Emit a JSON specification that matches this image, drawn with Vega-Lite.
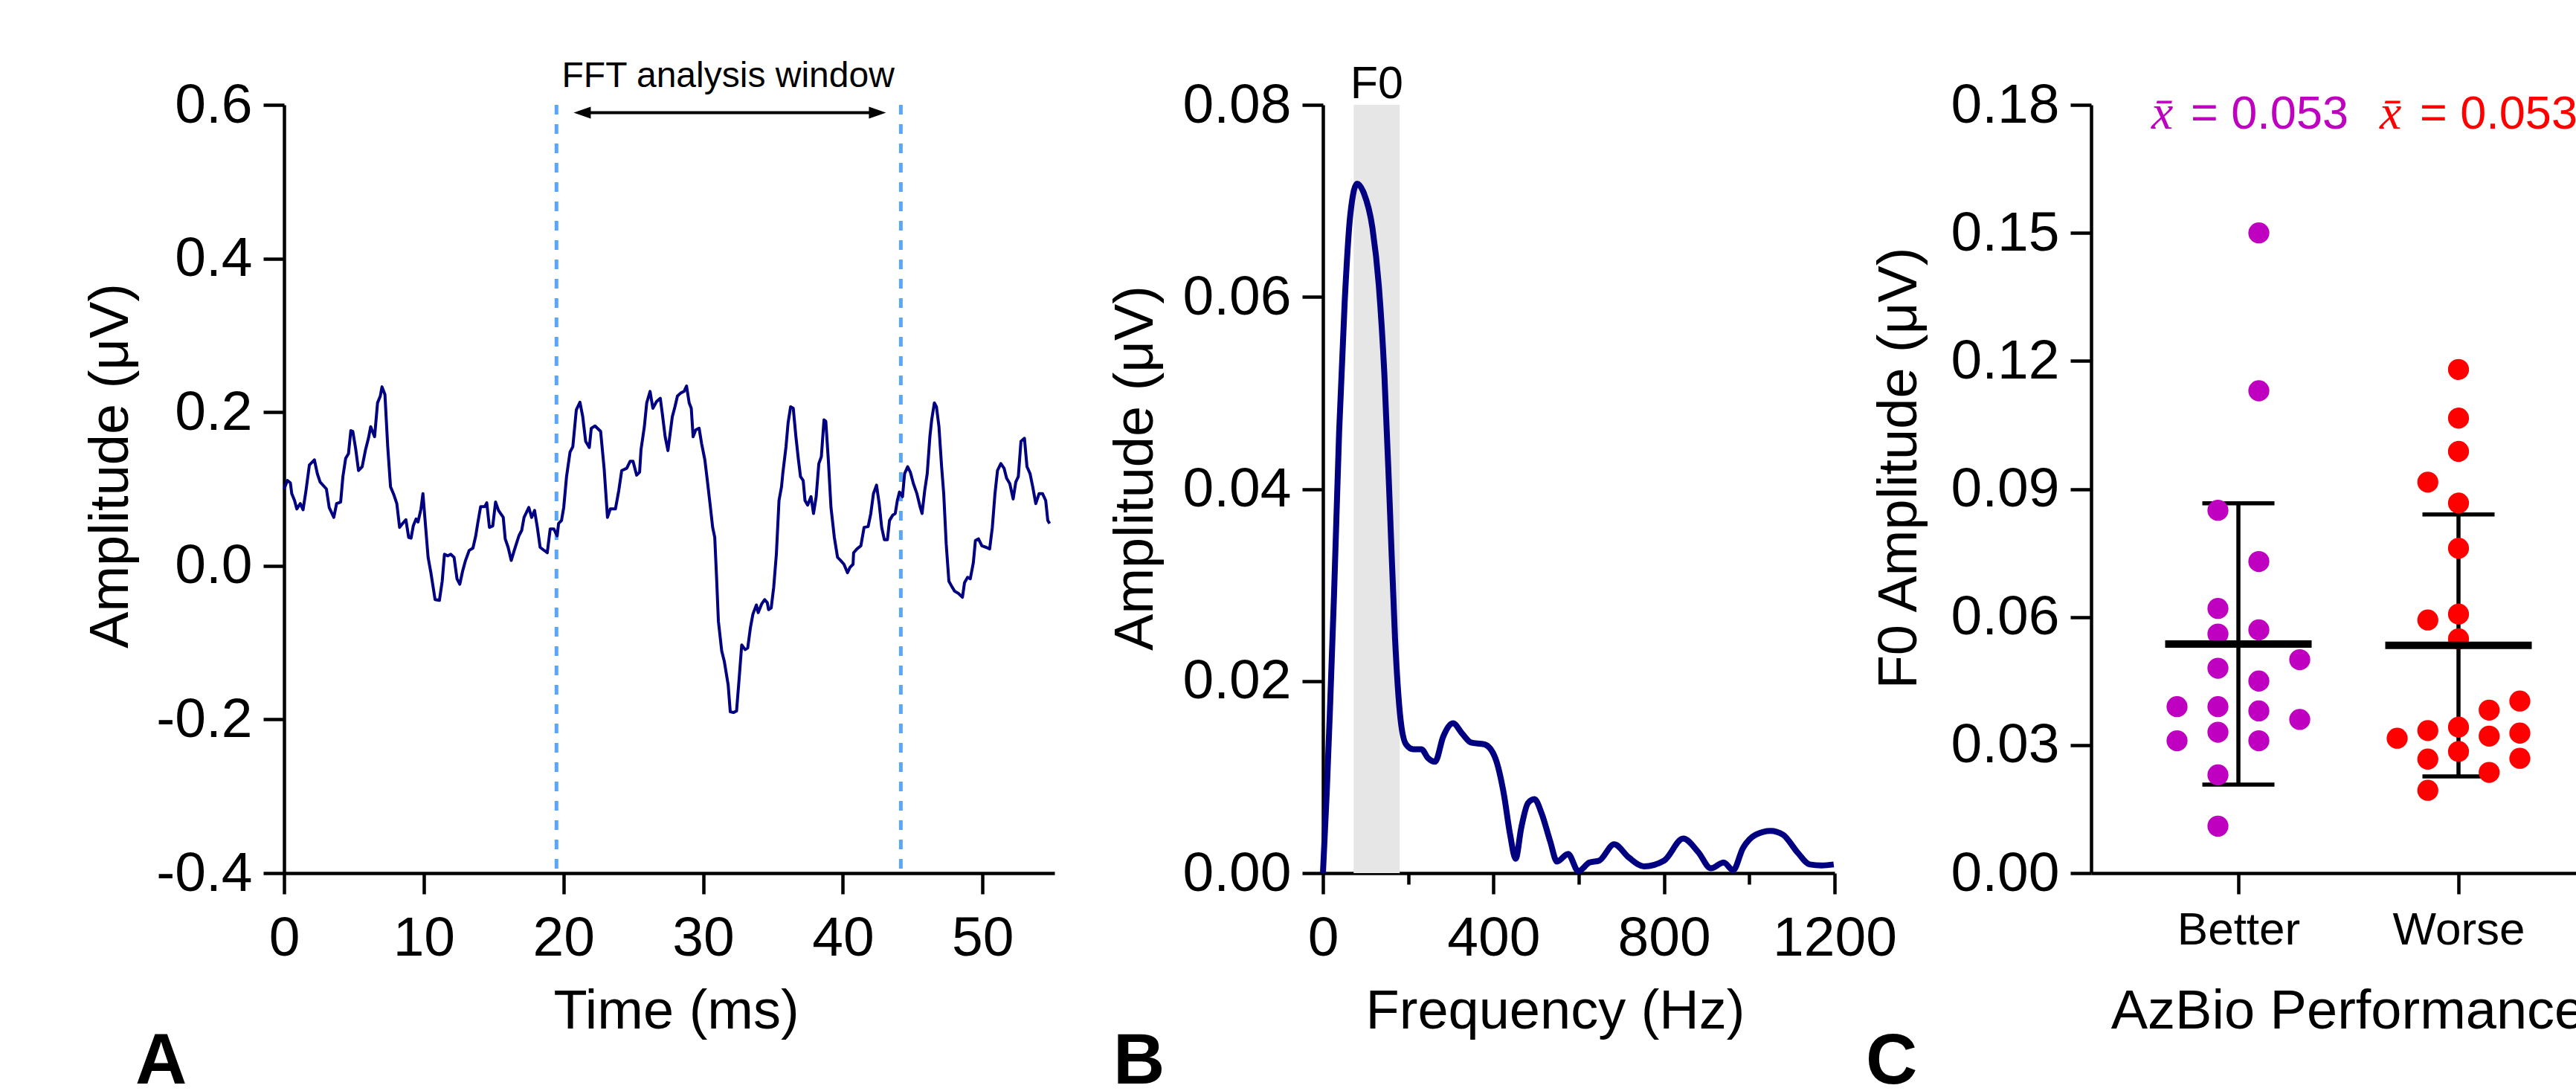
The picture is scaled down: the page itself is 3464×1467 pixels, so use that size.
{
  "$schema": "https://vega.github.io/schema/vega-lite/v6.json",
  "autosize": {"type": "none"},
  "padding": {"left": 382, "top": 141, "right": 3082, "bottom": 1326},
  "background": "white",
  "config": {
    "font": "Liberation Sans",
    "view": {"stroke": null},
    "axis": {
      "domainColor": "black", "domainWidth": 4.5,
      "tickColor": "black", "tickWidth": 4.5, "tickSize": 28,
      "labelFont": "Liberation Sans", "labelFontSize": 75, "labelColor": "black",
      "titleFont": "Liberation Sans", "titleFontSize": 74, "titleFontWeight": "normal", "titleColor": "black",
      "grid": false, "labelFlush": false, "labelOverlap": false, "labelBound": false
    },
    "axisX": {"labelBaseline": "alphabetic", "labelPadding": 82, "titleBaseline": "alphabetic", "titleY": 208, "labelAngle": 0},
    "axisY": {"labelPadding": 15, "titleBaseline": "alphabetic"}
  },
  "bounds": "flush",
  "spacing": 361,
  "hconcat": [
    {
      "width": 1036,
      "height": 1033,
      "title": {"text": "A", "orient": "bottom", "anchor": "start", "frame": "group", "dx": -200, "offset": 60, "baseline": "alphabetic", "fontSize": 96, "fontWeight": "bold", "font": "Liberation Sans", "color": "black"},
      "layer": [
        {
          "data": {"values": [{"boundary_ms": 19.5}, {"boundary_ms": 44.15}]},
          "mark": {"type": "rule", "color": "#5aa7f7", "strokeWidth": 5, "strokeDash": [13, 13]},
          "encoding": {
            "x": {"field": "boundary_ms", "type": "quantitative", "title": "Time (ms)", "scale": {"domain": [0, 55.15], "nice": false, "zero": false}}
          }
        },
        {
          "data": {"values": [
            {"ms":0,"uV":0.100},{"ms":0.24,"uV":0.111},{"ms":0.45,"uV":0.108},{"ms":0.55,"uV":0.094},{"ms":0.75,"uV":0.085},{"ms":0.91,"uV":0.074},{"ms":1.16,"uV":0.081},{"ms":1.36,"uV":0.073},{"ms":1.57,"uV":0.098},{"ms":1.81,"uV":0.131},{"ms":2.17,"uV":0.138},{"ms":2.38,"uV":0.120},{"ms":2.58,"uV":0.109},{"ms":3.03,"uV":0.100},{"ms":3.23,"uV":0.076},{"ms":3.56,"uV":0.063},{"ms":3.76,"uV":0.081},{"ms":4.05,"uV":0.083},{"ms":4.21,"uV":0.116},{"ms":4.41,"uV":0.140},{"ms":4.61,"uV":0.146},{"ms":4.78,"uV":0.176},{"ms":4.92,"uV":0.175},{"ms":5.12,"uV":0.153},{"ms":5.33,"uV":0.124},{"ms":5.59,"uV":0.129},{"ms":5.83,"uV":0.151},{"ms":6.04,"uV":0.166},{"ms":6.20,"uV":0.181},{"ms":6.48,"uV":0.168},{"ms":6.69,"uV":0.212},{"ms":6.89,"uV":0.221},{"ms":7.01,"uV":0.233},{"ms":7.22,"uV":0.223},{"ms":7.42,"uV":0.155},{"ms":7.62,"uV":0.103},{"ms":7.87,"uV":0.092},{"ms":8.07,"uV":0.081},{"ms":8.27,"uV":0.050},{"ms":8.48,"uV":0.055},{"ms":8.72,"uV":0.060},{"ms":8.92,"uV":0.037},{"ms":9.09,"uV":0.036},{"ms":9.25,"uV":0.052},{"ms":9.45,"uV":0.061},{"ms":9.59,"uV":0.057},{"ms":9.80,"uV":0.074},{"ms":9.94,"uV":0.094},{"ms":10.06,"uV":0.067},{"ms":10.31,"uV":0.011},{"ms":10.51,"uV":-0.009},{"ms":10.81,"uV":-0.044},{"ms":11.12,"uV":-0.045},{"ms":11.32,"uV":-0.020},{"ms":11.48,"uV":0.015},{"ms":11.73,"uV":0.013},{"ms":11.93,"uV":0.015},{"ms":12.17,"uV":0.011},{"ms":12.38,"uV":-0.017},{"ms":12.58,"uV":-0.024},{"ms":12.78,"uV":-0.007},{"ms":12.99,"uV":0.007},{"ms":13.25,"uV":0.020},{"ms":13.52,"uV":0.023},{"ms":13.72,"uV":0.039},{"ms":13.86,"uV":0.055},{"ms":14.07,"uV":0.077},{"ms":14.37,"uV":0.077},{"ms":14.51,"uV":0.082},{"ms":14.70,"uV":0.050},{"ms":14.94,"uV":0.052},{"ms":15.14,"uV":0.083},{"ms":15.35,"uV":0.072},{"ms":15.69,"uV":0.063},{"ms":15.83,"uV":0.035},{"ms":16.04,"uV":0.024},{"ms":16.26,"uV":0.007},{"ms":16.51,"uV":0.022},{"ms":16.81,"uV":0.039},{"ms":17.01,"uV":0.046},{"ms":17.18,"uV":0.063},{"ms":17.52,"uV":0.076},{"ms":17.72,"uV":0.063},{"ms":17.93,"uV":0.072},{"ms":18.13,"uV":0.050},{"ms":18.33,"uV":0.024},{"ms":18.84,"uV":0.017},{"ms":19.05,"uV":0.048},{"ms":19.31,"uV":0.048},{"ms":19.55,"uV":0.039},{"ms":19.65,"uV":0.055},{"ms":19.86,"uV":0.059},{"ms":20.02,"uV":0.076},{"ms":20.22,"uV":0.116},{"ms":20.47,"uV":0.148},{"ms":20.67,"uV":0.155},{"ms":20.92,"uV":0.203},{"ms":21.18,"uV":0.213},{"ms":21.38,"uV":0.194},{"ms":21.59,"uV":0.162},{"ms":21.85,"uV":0.154},{"ms":21.99,"uV":0.179},{"ms":22.26,"uV":0.182},{"ms":22.66,"uV":0.175},{"ms":22.91,"uV":0.127},{"ms":23.15,"uV":0.063},{"ms":23.35,"uV":0.074},{"ms":23.72,"uV":0.074},{"ms":23.96,"uV":0.098},{"ms":24.17,"uV":0.124},{"ms":24.53,"uV":0.127},{"ms":24.77,"uV":0.136},{"ms":24.98,"uV":0.136},{"ms":25.24,"uV":0.118},{"ms":25.45,"uV":0.122},{"ms":25.55,"uV":0.151},{"ms":25.79,"uV":0.181},{"ms":25.96,"uV":0.212},{"ms":26.20,"uV":0.227},{"ms":26.40,"uV":0.205},{"ms":26.67,"uV":0.214},{"ms":26.93,"uV":0.218},{"ms":27.07,"uV":0.199},{"ms":27.28,"uV":0.168},{"ms":27.48,"uV":0.150},
            {"ms":27.79,"uV":0.194},{"ms":27.98,"uV":0.207},{"ms":28.16,"uV":0.221},{"ms":28.40,"uV":0.225},{"ms":28.63,"uV":0.227},{"ms":28.81,"uV":0.234},{"ms":29.00,"uV":0.212},{"ms":29.15,"uV":0.205},{"ms":29.28,"uV":0.168},{"ms":29.47,"uV":0.177},{"ms":29.71,"uV":0.179},{"ms":29.89,"uV":0.159},{"ms":30.12,"uV":0.138},{"ms":30.30,"uV":0.111},{"ms":30.49,"uV":0.081},{"ms":30.68,"uV":0.050},{"ms":30.83,"uV":0.037},{"ms":30.96,"uV":-0.015},{"ms":31.09,"uV":-0.072},{"ms":31.33,"uV":-0.111},{"ms":31.51,"uV":-0.124},{"ms":31.79,"uV":-0.155},{"ms":31.94,"uV":-0.190},{"ms":32.17,"uV":-0.191},{"ms":32.39,"uV":-0.189},{"ms":32.58,"uV":-0.146},{"ms":32.76,"uV":-0.103},{"ms":33.00,"uV":-0.109},{"ms":33.19,"uV":-0.107},{"ms":33.38,"uV":-0.081},{"ms":33.56,"uV":-0.063},{"ms":33.81,"uV":-0.051},{"ms":33.94,"uV":-0.061},{"ms":34.18,"uV":-0.050},{"ms":34.40,"uV":-0.044},{"ms":34.59,"uV":-0.048},{"ms":34.68,"uV":-0.057},{"ms":34.87,"uV":-0.055},{"ms":35.05,"uV":-0.028},{"ms":35.24,"uV":0.015},{"ms":35.43,"uV":0.085},{"ms":35.61,"uV":0.103},{"ms":35.70,"uV":0.120},{"ms":35.93,"uV":0.155},{"ms":36.08,"uV":0.186},{"ms":36.26,"uV":0.207},{"ms":36.45,"uV":0.205},{"ms":36.64,"uV":0.168},{"ms":36.82,"uV":0.138},{"ms":36.97,"uV":0.116},{"ms":37.16,"uV":0.111},{"ms":37.29,"uV":0.085},{"ms":37.48,"uV":0.079},{"ms":37.72,"uV":0.090},{"ms":37.90,"uV":0.068},{"ms":38.09,"uV":0.090},{"ms":38.28,"uV":0.133},{"ms":38.46,"uV":0.142},{"ms":38.65,"uV":0.190},{"ms":38.78,"uV":0.188},{"ms":38.96,"uV":0.138},{"ms":39.15,"uV":0.076},{"ms":39.39,"uV":0.037},{"ms":39.62,"uV":0.011},{"ms":39.84,"uV":0.007},{"ms":40.08,"uV":0.002},{"ms":40.33,"uV":-0.009},{"ms":40.51,"uV":-0.002},{"ms":40.73,"uV":0.002},{"ms":40.77,"uV":0.017},{"ms":41.01,"uV":0.022},{"ms":41.29,"uV":0.026},{"ms":41.52,"uV":0.050},{"ms":41.81,"uV":0.051},{"ms":42.00,"uV":0.068},{"ms":42.19,"uV":0.094},{"ms":42.41,"uV":0.105},{"ms":42.60,"uV":0.081},{"ms":42.78,"uV":0.050},{"ms":42.97,"uV":0.034},{"ms":43.19,"uV":0.034},{"ms":43.34,"uV":0.059},{"ms":43.57,"uV":0.066},{"ms":43.75,"uV":0.068},{"ms":43.90,"uV":0.085},{"ms":44.05,"uV":0.096},{"ms":44.27,"uV":0.090},{"ms":44.42,"uV":0.120},{"ms":44.64,"uV":0.129},{"ms":44.83,"uV":0.122},{"ms":45.05,"uV":0.107},{"ms":45.30,"uV":0.094},{"ms":45.54,"uV":0.076},{"ms":45.67,"uV":0.068},{"ms":45.86,"uV":0.098},{"ms":46.04,"uV":0.120},{"ms":46.23,"uV":0.168},{"ms":46.36,"uV":0.190},{"ms":46.55,"uV":0.212},{"ms":46.70,"uV":0.207},{"ms":46.88,"uV":0.181},{"ms":47.07,"uV":0.129},{"ms":47.22,"uV":0.094},{"ms":47.40,"uV":0.028},{"ms":47.59,"uV":-0.020},{"ms":47.77,"uV":-0.026},{"ms":48.00,"uV":-0.033},{"ms":48.28,"uV":-0.036},{"ms":48.56,"uV":-0.041},{"ms":48.71,"uV":-0.022},{"ms":48.93,"uV":-0.015},{"ms":49.12,"uV":-0.017},{"ms":49.34,"uV":0.004},{"ms":49.49,"uV":0.033},{"ms":49.71,"uV":0.035},{"ms":49.95,"uV":0.026},{"ms":50.27,"uV":0.024},{"ms":50.51,"uV":0.022},{"ms":50.70,"uV":0.050},{"ms":50.89,"uV":0.094},{"ms":51.07,"uV":0.124},{"ms":51.31,"uV":0.133},{"ms":51.54,"uV":0.127},{"ms":51.72,"uV":0.114},{"ms":51.95,"uV":0.107},{"ms":52.19,"uV":0.087},{"ms":52.38,"uV":0.109},{"ms":52.56,"uV":0.116},{"ms":52.75,"uV":0.162},{"ms":53.00,"uV":0.166},{"ms":53.18,"uV":0.129},{"ms":53.40,"uV":0.120},{"ms":53.59,"uV":0.103},{"ms":53.81,"uV":0.081},{"ms":54.05,"uV":0.094},{"ms":54.29,"uV":0.094},{"ms":54.52,"uV":0.085},{"ms":54.67,"uV":0.059},{"ms":54.80,"uV":0.055}
          ]},
          "mark": {"type": "line", "color": "#000080", "strokeWidth": 4, "strokeJoin": "round"},
          "encoding": {
            "x": {"field": "ms", "type": "quantitative", "scale": {"domain": [0, 55.15], "nice": false, "zero": false},
                  "axis": {"title": "Time (ms)", "values": [0, 10, 20, 30, 40, 50], "format": "d", "titleX": 527}},
            "y": {"field": "uV", "type": "quantitative", "scale": {"domain": [-0.4, 0.6], "nice": false, "zero": false},
                  "axis": {"title": "Amplitude (μV)", "values": [-0.4, -0.2, 0, 0.2, 0.4, 0.6],
                           "labelExpr": "datum.value < 0 ? '-' + format(-datum.value, '.1f') : format(datum.value, '.1f')",
                           "titleX": -211, "titleY": 485}}
          }
        },
        {
          "data": {"values": [{}]},
          "mark": {"type": "rule", "color": "black", "strokeWidth": 4},
          "encoding": {
            "x": {"datum": 21.6, "type": "quantitative", "title": "Time (ms)"},
            "x2": {"datum": 42.2},
            "y": {"datum": 0.5898, "type": "quantitative", "title": "Amplitude (μV)"}
          }
        },
        {
          "data": {"values": [{}]},
          "mark": {"type": "point", "shape": "M0,0L2,-0.7L2,0.7Z", "filled": true, "color": "black", "opacity": 1, "size": 529, "strokeWidth": 0},
          "encoding": {
            "x": {"datum": 20.73, "type": "quantitative", "title": "Time (ms)"},
            "y": {"datum": 0.5898, "type": "quantitative", "title": "Amplitude (μV)"}
          }
        },
        {
          "data": {"values": [{}]},
          "mark": {"type": "point", "shape": "M0,0L-2,-0.7L-2,0.7Z", "filled": true, "color": "black", "opacity": 1, "size": 529, "strokeWidth": 0},
          "encoding": {
            "x": {"datum": 43.09, "type": "quantitative", "title": "Time (ms)"},
            "y": {"datum": 0.5898, "type": "quantitative", "title": "Amplitude (μV)"}
          }
        },
        {
          "data": {"values": [{}]},
          "mark": {"type": "text", "text": "FFT analysis window", "font": "Liberation Sans", "fontSize": 48, "align": "center", "baseline": "alphabetic", "color": "black"},
          "encoding": {
            "x": {"datum": 31.79, "type": "quantitative", "title": "Time (ms)"},
            "y": {"datum": 0.6233, "type": "quantitative", "title": "Amplitude (μV)"}
          }
        }
      ]
    },
    {
      "bounds": "flush",
      "spacing": 345,
      "hconcat": [
        {
          "width": 688,
          "height": 1033,
          "title": {"text": "B", "orient": "bottom", "anchor": "start", "frame": "group", "dx": -282, "offset": 60, "baseline": "alphabetic", "fontSize": 96, "fontWeight": "bold", "font": "Liberation Sans", "color": "black"},
          "layer": [
            {
              "data": {"values": [{}]},
              "mark": {"type": "rect", "color": "#e6e6e6"},
              "encoding": {
                "x": {"datum": 72, "type": "quantitative", "title": "Frequency (Hz)", "scale": {"domain": [0, 1200], "nice": false}},
                "x2": {"datum": 180},
                "y": {"datum": 0, "type": "quantitative", "title": "Amplitude (μV)", "scale": {"domain": [0, 0.08], "nice": false}},
                "y2": {"datum": 0.08}
              }
            },
            {
              "data": {"values": [
                {"hz":0,"amp":0},{"hz":9,"amp":0.0085},{"hz":16,"amp":0.0165},{"hz":26,"amp":0.029},{"hz":38,"amp":0.046},{"hz":51,"amp":0.0595},{"hz":64,"amp":0.0685},{"hz":80,"amp":0.0718},{"hz":96,"amp":0.0708},{"hz":116,"amp":0.0672},{"hz":131,"amp":0.0612},{"hz":144,"amp":0.052},{"hz":157,"amp":0.038},{"hz":169,"amp":0.0245},{"hz":182,"amp":0.016},{"hz":195,"amp":0.0134},{"hz":212,"amp":0.0129},{"hz":231,"amp":0.0129},{"hz":246,"amp":0.0120},{"hz":263,"amp":0.0116},{"hz":282,"amp":0.0142},{"hz":305,"amp":0.0156},{"hz":327,"amp":0.0145},{"hz":347,"amp":0.0136},{"hz":379,"amp":0.0134},{"hz":404,"amp":0.0120},{"hz":424,"amp":0.0083},{"hz":439,"amp":0.0040},{"hz":452,"amp":0.0015},{"hz":465,"amp":0.0047},{"hz":481,"amp":0.0073},{"hz":496,"amp":0.0077},{"hz":513,"amp":0.0062},{"hz":533,"amp":0.0033},{"hz":549,"amp":0.0012},{"hz":575,"amp":0.0020},{"hz":599,"amp":0.0002},{"hz":625,"amp":0.0011},{"hz":648,"amp":0.0013},{"hz":683,"amp":0.0030},{"hz":718,"amp":0.0016},{"hz":753,"amp":0.0007},{"hz":800,"amp":0.0013},{"hz":845,"amp":0.0036},{"hz":880,"amp":0.0022},{"hz":910,"amp":0.0005},{"hz":940,"amp":0.0011},{"hz":962,"amp":0.0003},{"hz":985,"amp":0.0026},{"hz":1015,"amp":0.0040},{"hz":1050,"amp":0.0044},{"hz":1079,"amp":0.0040},{"hz":1114,"amp":0.0021},{"hz":1142,"amp":0.0009},{"hz":1170,"amp":0.0008},{"hz":1198,"amp":0.0009}
              ]},
              "mark": {"type": "line", "color": "#000080", "strokeWidth": 8, "interpolate": "monotone", "strokeJoin": "round"},
              "encoding": {
                "x": {"field": "hz", "type": "quantitative", "scale": {"domain": [0, 1200], "nice": false},
                      "axis": {"title": "Frequency (Hz)", "values": [0, 200, 400, 600, 800, 1000, 1200], "format": "d",
                               "labelExpr": "datum.value % 400 === 0 ? datum.label : ''",
                               "tickSize": {"condition": {"test": "datum.value % 400 === 0", "value": 28}, "value": 15},
                               "titleX": 312}},
                "y": {"field": "amp", "type": "quantitative", "scale": {"domain": [0, 0.08], "nice": false},
                      "axis": {"title": "Amplitude (μV)", "values": [0, 0.02, 0.04, 0.06, 0.08], "format": ".2f", "titleX": -230, "titleY": 488}}
              }
            },
            {
              "data": {"values": [{}]},
              "mark": {"type": "text", "text": "F0", "font": "Liberation Sans", "fontSize": 61, "align": "center", "baseline": "alphabetic", "color": "black"},
              "encoding": {
                "x": {"datum": 126, "type": "quantitative", "title": "Frequency (Hz)"},
                "y": {"datum": 0.0807, "type": "quantitative", "title": "Amplitude (μV)"}
              }
            }
          ]
        },
        {
          "width": 652,
          "height": 1033,
          "title": {"text": "C", "orient": "bottom", "anchor": "start", "frame": "group", "dx": -303, "offset": 60, "baseline": "alphabetic", "fontSize": 96, "fontWeight": "bold", "font": "Liberation Sans", "color": "black"},
          "layer": [
            {
              "data": {"name": "f0"},
              "mark": {"type": "errorbar", "extent": "stdev", "color": "black", "opacity": 1, "thickness": 5.5, "size": 97, "ticks": {"size": 97, "thickness": 5.5, "color": "black", "opacity": 1}, "rule": {"strokeWidth": 5.5, "color": "black"}},
              "encoding": {
                "x": {"field": "group", "type": "nominal", "title": "AzBio Performance", "scale": {"type": "point", "domain": ["Better", "Worse"], "padding": 0.6014, "align": 0.5562}},
                "y": {"field": "F0_uV", "type": "quantitative", "title": "F0 Amplitude (μV)", "scale": {"domain": [0, 0.18], "nice": false}}
              }
            },
            {
              "data": {"name": "f0"},
              "mark": {"type": "circle", "size": 800, "opacity": 1},
              "encoding": {
                "x": {"field": "group", "type": "nominal", "scale": {"type": "point", "domain": ["Better", "Worse"], "padding": 0.6014, "align": 0.5562},
                      "axis": {"title": "AzBio Performance", "labelFontSize": 62, "labelPadding": 67, "titleX": 345}},
                "xOffset": {"field": "slot", "type": "quantitative", "scale": {"domain": [-3, 3], "range": [-82.5, 82.5]}},
                "y": {"field": "F0_uV", "type": "quantitative", "scale": {"domain": [0, 0.18], "nice": false},
                      "axis": {"title": "F0 Amplitude (μV)", "values": [0, 0.03, 0.06, 0.09, 0.12, 0.15, 0.18], "format": ".2f", "titleX": -236, "titleY": 488}},
                "color": {"field": "group", "type": "nominal", "scale": {"domain": ["Better", "Worse"], "range": ["#c000c0", "#ff0000"]}, "legend": null}
              }
            },
            {
              "data": {"name": "f0"},
              "mark": {"type": "tick", "size": 197, "thickness": 10, "color": "black", "opacity": 1},
              "encoding": {
                "x": {"field": "group", "type": "nominal", "title": "AzBio Performance", "scale": {"type": "point", "domain": ["Better", "Worse"], "padding": 0.6014, "align": 0.5562}},
                "y": {"aggregate": "mean", "field": "F0_uV", "type": "quantitative", "title": "F0 Amplitude (μV)", "scale": {"domain": [0, 0.18], "nice": false}}
              }
            },
            {
              "data": {"values": [{}]},
              "mark": {"type": "text", "text": "x̄", "font": "Liberation Serif", "fontStyle": "italic", "fontSize": 66, "align": "left", "baseline": "alphabetic", "color": "#c000c0", "dx": -117},
              "encoding": {
                "x": {"datum": "Better", "type": "nominal", "title": "AzBio Performance"},
                "y": {"datum": 0.1744, "type": "quantitative", "title": "F0 Amplitude (μV)"}
              }
            },
            {
              "data": {"values": [{}]},
              "mark": {"type": "text", "text": "= 0.053", "font": "Liberation Sans", "fontSize": 63, "align": "left", "baseline": "alphabetic", "color": "#c000c0", "dx": -64},
              "encoding": {
                "x": {"datum": "Better", "type": "nominal", "title": "AzBio Performance"},
                "y": {"datum": 0.1744, "type": "quantitative", "title": "F0 Amplitude (μV)"}
              }
            },
            {
              "data": {"values": [{}]},
              "mark": {"type": "text", "text": "x̄", "font": "Liberation Serif", "fontStyle": "italic", "fontSize": 66, "align": "left", "baseline": "alphabetic", "color": "#ff0000", "dx": -106},
              "encoding": {
                "x": {"datum": "Worse", "type": "nominal", "title": "AzBio Performance"},
                "y": {"datum": 0.1744, "type": "quantitative", "title": "F0 Amplitude (μV)"}
              }
            },
            {
              "data": {"values": [{}]},
              "mark": {"type": "text", "text": "= 0.053", "font": "Liberation Sans", "fontSize": 63, "align": "left", "baseline": "alphabetic", "color": "#ff0000", "dx": -52},
              "encoding": {
                "x": {"datum": "Worse", "type": "nominal", "title": "AzBio Performance"},
                "y": {"datum": 0.1744, "type": "quantitative", "title": "F0 Amplitude (μV)"}
              }
            }
          ]
        }
      ]
    }
  ],
  "datasets": {
    "f0": [
      {"group":"Better","F0_uV":0.150,"slot":1},{"group":"Better","F0_uV":0.113,"slot":1},{"group":"Better","F0_uV":0.085,"slot":-1},{"group":"Better","F0_uV":0.073,"slot":1},{"group":"Better","F0_uV":0.062,"slot":-1},{"group":"Better","F0_uV":0.056,"slot":-1},{"group":"Better","F0_uV":0.057,"slot":1},{"group":"Better","F0_uV":0.050,"slot":3},{"group":"Better","F0_uV":0.048,"slot":-1},{"group":"Better","F0_uV":0.045,"slot":1},{"group":"Better","F0_uV":0.039,"slot":-3},{"group":"Better","F0_uV":0.039,"slot":-1},{"group":"Better","F0_uV":0.038,"slot":1},{"group":"Better","F0_uV":0.036,"slot":3},{"group":"Better","F0_uV":0.031,"slot":-3},{"group":"Better","F0_uV":0.033,"slot":-1},{"group":"Better","F0_uV":0.031,"slot":1},{"group":"Better","F0_uV":0.023,"slot":-1},{"group":"Better","F0_uV":0.011,"slot":-1},
      {"group":"Worse","F0_uV":0.1180,"slot":0},{"group":"Worse","F0_uV":0.1066,"slot":0},{"group":"Worse","F0_uV":0.0988,"slot":0},{"group":"Worse","F0_uV":0.0916,"slot":-1.5},{"group":"Worse","F0_uV":0.0867,"slot":0},{"group":"Worse","F0_uV":0.0761,"slot":0},{"group":"Worse","F0_uV":0.0593,"slot":-1.5},{"group":"Worse","F0_uV":0.0607,"slot":0},{"group":"Worse","F0_uV":0.0549,"slot":0},{"group":"Worse","F0_uV":0.0316,"slot":-3},{"group":"Worse","F0_uV":0.0334,"slot":-1.5},{"group":"Worse","F0_uV":0.0342,"slot":0},{"group":"Worse","F0_uV":0.0382,"slot":1.5},{"group":"Worse","F0_uV":0.0403,"slot":3},{"group":"Worse","F0_uV":0.0267,"slot":-1.5},{"group":"Worse","F0_uV":0.0285,"slot":0},{"group":"Worse","F0_uV":0.0321,"slot":1.5},{"group":"Worse","F0_uV":0.0328,"slot":3},{"group":"Worse","F0_uV":0.0269,"slot":3},{"group":"Worse","F0_uV":0.0236,"slot":1.5},{"group":"Worse","F0_uV":0.0194,"slot":-1.5}
    ]
  }
}
